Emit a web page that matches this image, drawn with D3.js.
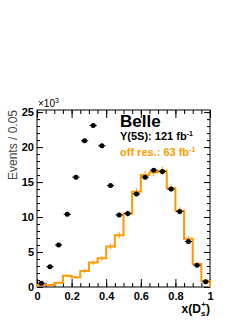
<!DOCTYPE html>
<html>
<head>
<meta charset="utf-8">
<script src="https://cdn.jsdelivr.net/npm/d3@7"></script>
<style>
  body { margin: 0; background: #fff; }
  text { font-family: "Liberation Sans", Arial, sans-serif; }
</style>
</head>
<body>
<div id="chart-area"></div>
<script>
// bin centres of x(Ds+), width 0.05
var binCenters = [0.025, 0.075, 0.125, 0.175, 0.225, 0.275, 0.325, 0.375, 0.425, 0.475,
                  0.525, 0.575, 0.625, 0.675, 0.725, 0.775, 0.825, 0.875, 0.925, 0.975];
// Y(5S) data, events / 0.05 in units of 10^3
var onRes = [0.55, 2.9, 6.0, 10.4, 15.7, 20.9, 23.1, 20.2, 14.5, 10.3,
             10.5, 13.3, 15.7, 16.7, 16.5, 14.0, 10.8, 6.5, 3.1, 0.75];
// off-resonance, scaled
var offRes = [0.3, 0.3, 0.6, 1.6, 1.4, 2.3, 3.5, 4.1, 5.8, 7.4,
              10.5, 13.6, 16.0, 16.4, 16.6, 14.1, 10.9, 6.9, 3.3, 0.9];
var offErr = [0.1, 0.1, 0.1, 0.2, 0.2, 0.3, 0.35, 0.35, 0.4, 0.45,
              0.5, 0.55, 0.6, 0.6, 0.6, 0.55, 0.5, 0.4, 0.3, 0.15];
var xTicks = [0, 0.2, 0.4, 0.6, 0.8, 1];
var yTicks = [0, 5, 10, 15, 20, 25];

var binW = 0.05;
var orange = "#ff9900";

var width = 249, height = 323;
var svg = d3.select("#chart-area").append("svg")
    .attr("width", width)
    .attr("height", height);

var x = d3.scaleLinear().domain([0, 1]).range([37, 210]);
var y = d3.scaleLinear().domain([0, 25.3]).range([287, 110]);

// frame
svg.append("rect")
    .attr("x", x(0)).attr("y", y(25.3))
    .attr("width", x(1) - x(0)).attr("height", y(0) - y(25.3))
    .attr("fill", "none").attr("stroke", "#000").attr("stroke-width", 1);

// inward ticks, ROOT style
function tickGroup(axisFn, scale, major, minorStep, transform, len) {
    var minor = d3.range(scale.domain()[0], scale.domain()[1] + 1e-9, minorStep);
    var gMin = svg.append("g").attr("transform", transform)
        .call(axisFn(scale).tickValues(minor).tickSize(len / 2).tickFormat(""));
    var gMaj = svg.append("g").attr("transform", transform)
        .call(axisFn(scale).tickValues(major).tickSize(len).tickFormat(""));
    [gMin, gMaj].forEach(function(g) {
        g.select(".domain").remove();
        g.selectAll("line").attr("stroke", "#000");
    });
}
tickGroup(d3.axisTop, x, xTicks, 0.05, "translate(0," + y(0) + ")", 8);
tickGroup(d3.axisBottom, x, xTicks, 0.05, "translate(0," + y(25.3) + ")", 8);
tickGroup(d3.axisRight, y, yTicks, 1, "translate(" + x(0) + ",0)", 6);
tickGroup(d3.axisLeft, y, yTicks, 1, "translate(" + x(1) + ",0)", 6);

// tick labels
var xAxis = svg.append("g")
    .attr("transform", "translate(0," + y(0) + ")")
    .call(d3.axisBottom(x).tickValues(xTicks).tickSize(0).tickPadding(5)
        .tickFormat(function(d) { return d3.format("~g")(d); }));
xAxis.select(".domain").remove();
xAxis.selectAll("text").attr("font-size", "11px").attr("font-weight", "bold")
    .attr("font-family", "Liberation Sans, Arial, sans-serif").attr("fill", "#000");

var yAxis = svg.append("g")
    .attr("transform", "translate(" + x(0) + ",0)")
    .call(d3.axisLeft(y).tickValues(yTicks).tickSize(0).tickPadding(3));
yAxis.select(".domain").remove();
yAxis.selectAll("text").attr("font-size", "11px").attr("font-weight", "bold")
    .attr("font-family", "Liberation Sans, Arial, sans-serif").attr("fill", "#000");

// x10^3
var mult = svg.append("text")
    .attr("x", x(0) + 1).attr("y", y(25.3) - 3)
    .attr("font-size", "10px").attr("fill", "#000");
mult.append("tspan").text("×10");
mult.append("tspan").attr("dy", -4).attr("font-size", "7px").text("3");

// off-resonance histogram (step line)
var stepPts = [];
offRes.forEach(function(v, i) {
    stepPts.push([binCenters[i] - binW / 2, v]);
    stepPts.push([binCenters[i] + binW / 2, v]);
});
stepPts.unshift([0, 0]);
stepPts.push([1, 0]);
var line = d3.line().x(function(d) { return x(d[0]); }).y(function(d) { return y(d[1]); });
svg.append("path")
    .attr("d", line(stepPts))
    .attr("fill", "none").attr("stroke", orange).attr("stroke-width", 2);
svg.append("g").selectAll("line").data(offRes).enter().append("line")
    .attr("x1", function(d, i) { return x(binCenters[i]); })
    .attr("x2", function(d, i) { return x(binCenters[i]); })
    .attr("y1", function(d, i) { return y(d - offErr[i]); })
    .attr("y2", function(d, i) { return y(d + offErr[i]); })
    .attr("stroke", orange).attr("stroke-width", 1);

// data points
var pts = svg.append("g");
pts.selectAll("line").data(onRes).enter().append("line")
    .attr("x1", function(d, i) { return x(binCenters[i] - binW / 2 + 0.004); })
    .attr("x2", function(d, i) { return x(binCenters[i] + binW / 2 - 0.004); })
    .attr("y1", function(d) { return y(d); })
    .attr("y2", function(d) { return y(d); })
    .attr("stroke", "#000").attr("stroke-width", 1);
pts.selectAll("circle").data(onRes).enter().append("circle")
    .attr("cx", function(d, i) { return x(binCenters[i]); })
    .attr("cy", function(d) { return y(d); })
    .attr("r", 2.5).attr("fill", "#000");

// axis titles
svg.append("text")
    .attr("transform", "translate(17," + y(25.3) + ") rotate(-90)")
    .attr("text-anchor", "end")
    .attr("font-size", "12px").attr("fill", "#444")
    .text("Events / 0.05");

var xt = svg.append("text")
    .attr("x", x(1)).attr("y", 313)
    .attr("text-anchor", "end")
    .attr("font-size", "12px").attr("font-weight", "bold").attr("fill", "#000");
xt.append("tspan").text("x(D");
xt.append("tspan").attr("dy", 3).attr("font-size", "8px").text("s");
xt.append("tspan").attr("dx", -4).attr("dy", -9).attr("font-size", "8px").text("+");
xt.append("tspan").attr("dy", 6).text(")");

// legend
svg.append("text")
    .attr("x", 120).attr("y", 127)
    .attr("font-size", "17px").attr("font-weight", "bold").attr("fill", "#000")
    .text("Belle");
var l1 = svg.append("text")
    .attr("x", 120).attr("y", 140)
    .attr("font-size", "11px").attr("font-weight", "bold").attr("fill", "#000");
l1.append("tspan").text("Υ(5S): 121 fb");
l1.append("tspan").attr("dy", -4).attr("font-size", "7px").text("-1");
var l2 = svg.append("text")
    .attr("x", 120).attr("y", 156)
    .attr("font-size", "11px").attr("font-weight", "bold").attr("fill", orange);
l2.append("tspan").text("off res.: 63 fb");
l2.append("tspan").attr("dy", -4).attr("font-size", "7px").text("-1");
</script>
</body>
</html>
